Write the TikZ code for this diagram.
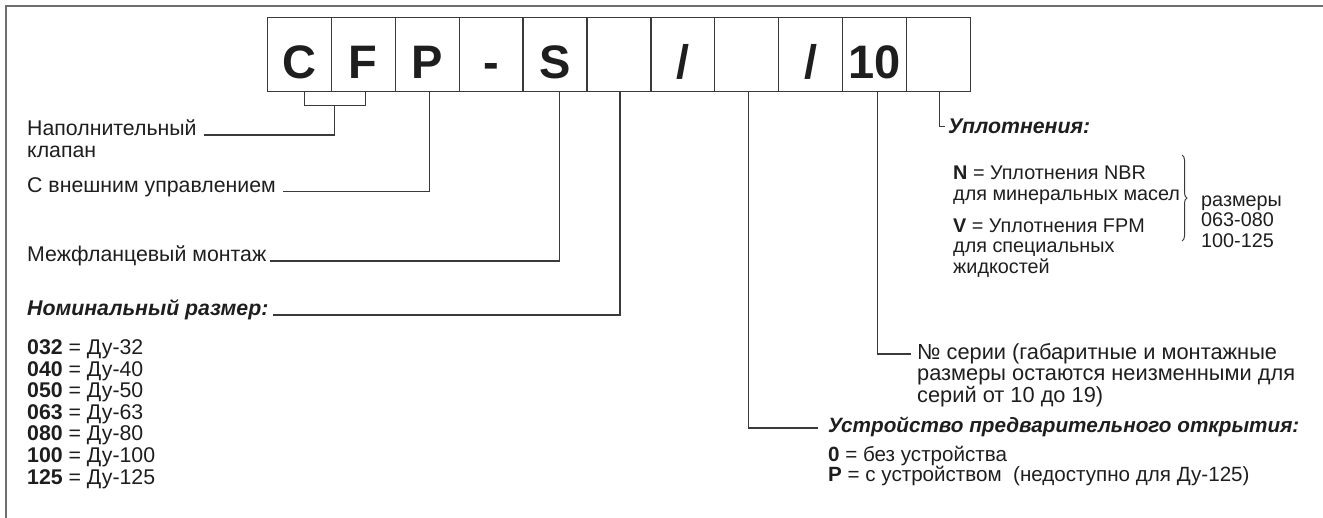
\documentclass[tikz,border=0pt]{standalone}
\usepackage{fontspec}
\setmainfont{Liberation Sans}
\usepackage{xcolor}
\usepackage{tikz}
\usetikzlibrary{
    calc,
    decorations.pathreplacing
}
\definecolor{linegray}{HTML}{3A3A3A}
\definecolor{framegray}{HTML}{6E6E6E}
\definecolor{inkblack}{HTML}{1E1E1E}

\begin{document}
\begin{tikzpicture}[x=1pt,y=-1pt,font=\fontsize{21.3}{21.3}\selectfont,text=inkblack]
    \tikzstyle{codebox}=[draw=linegray, line width=1.3pt, minimum width=63.9pt, minimum height=74.4pt, inner sep=0pt, text height=47.6pt, text depth=0pt, font=\fontsize{47}{47}\selectfont\bfseries]
    \tikzstyle{txt}=[anchor=base west, inner sep=0pt, align=left]
    \tikzstyle{small}=[txt, font=\fontsize{19.8}{20.3}\selectfont]
    \tikzstyle{hdr}=[txt, font=\fontsize{21.3}{21.3}\selectfont\bfseries\itshape]
    \tikzstyle{lead}=[draw=linegray, line width=1.1pt]
    \useasboundingbox (0,0) rectangle (1323,518);
    \draw[framegray, line width=2.2pt] (1323,6) -- (6,6) -- (6,518);
    \foreach \ch [count=\i from 0] in {C,F,P,-,S,{},/,{},/,10,{}}
        \node[codebox] (b\i) at ({267.5+63.9*(\i+0.5)},54.5) {\ch};
    \node[txt] (nfill) at (27,157.3) {Наполнительный\\клапан};
    \node[txt] (ctrl) at (27,192.7) {С внешним управлением};
    \node[txt] (wafer) at (27,262) {Межфланцевый монтаж};
    \node[hdr] (nomsize) at (27,316) {Номинальный размер:};
    \foreach \code/\dn [count=\i from 0] in {032/32,040/40,050/50,063/63,080/80,100/100,125/125}
        \node[txt] (dn\i) at (27,{355+21.5*\i}) {\textbf{\code} = Ду-\dn};
    \node[hdr] (seal) at (948,133.3) {Уплотнения:};
    \node[small] (nbr) at (953,200.3) {\textbf{N} = Уплотнения NBR\\для минеральных масел};
    \node[small] (fpm) at (953,273.3) {\textbf{V} = Уплотнения FPM\\для специальных\\жидкостей};
    \node[small] (sizes) at (1201,247.3) {размеры\\063-080\\100-125};
    \node[txt, font=\fontsize{21.8}{20.7}\selectfont] (series) at (917,402.4) {№ серии (габаритные и монтажные\\размеры остаются неизменными для\\серий от 10 до 19)};
    \node[hdr, font=\fontsize{20.7}{20.7}\selectfont\bfseries\itshape] (predev) at (828,433) {Устройство предварительного открытия:};
    \node[txt, font=\fontsize{20.6}{20}\selectfont] (prev0) at (828,481.5) {\textbf{0} = без устройства\\\textbf{P} = с устройством\ \ (недоступно для Ду-125)};
    \draw[lead, line width=1pt, decorate, decoration={brace, amplitude=5pt}] (1182,155) -- (1182,241);
    \path ([xshift=5pt]b0.south) ++(0,13.3) coordinate (brkL);
    \path ([xshift=2pt]b1.south) ++(0,13.3) coordinate (brkR);
    \coordinate (brk) at ($(brkL)!0.5!(brkR)$);
    \draw[lead] ([xshift=5pt]b0.south) -- (brkL) -- (brkR) -- ([xshift=2pt]b1.south);
    \draw[lead] ([shift={(7,-22.3)}]nfill.base east) -| (brk);
    \draw[lead] ([shift={(7,-1)}]ctrl.base east) -| ([xshift=2pt]b2.south);
    \draw[lead] ([shift={(4,-1)}]wafer.base east) -| ([xshift=4pt]b4.south);
    \draw[lead] ([shift={(4,-1)}]nomsize.base east) -| ([xshift=1pt]b5.south);
    \draw[lead] ([xshift=2pt]b7.south) |- ([shift={(-10,-5)}]predev.base west);
    \draw[lead] ([xshift=3pt]b9.south) |- ([shift={(-6,-48.4)}]series.base west);
    \draw[lead] ([xshift=1pt]b10.south) |- ([shift={(-3,-6.6)}]seal.base west);
\end{tikzpicture}
\end{document}
